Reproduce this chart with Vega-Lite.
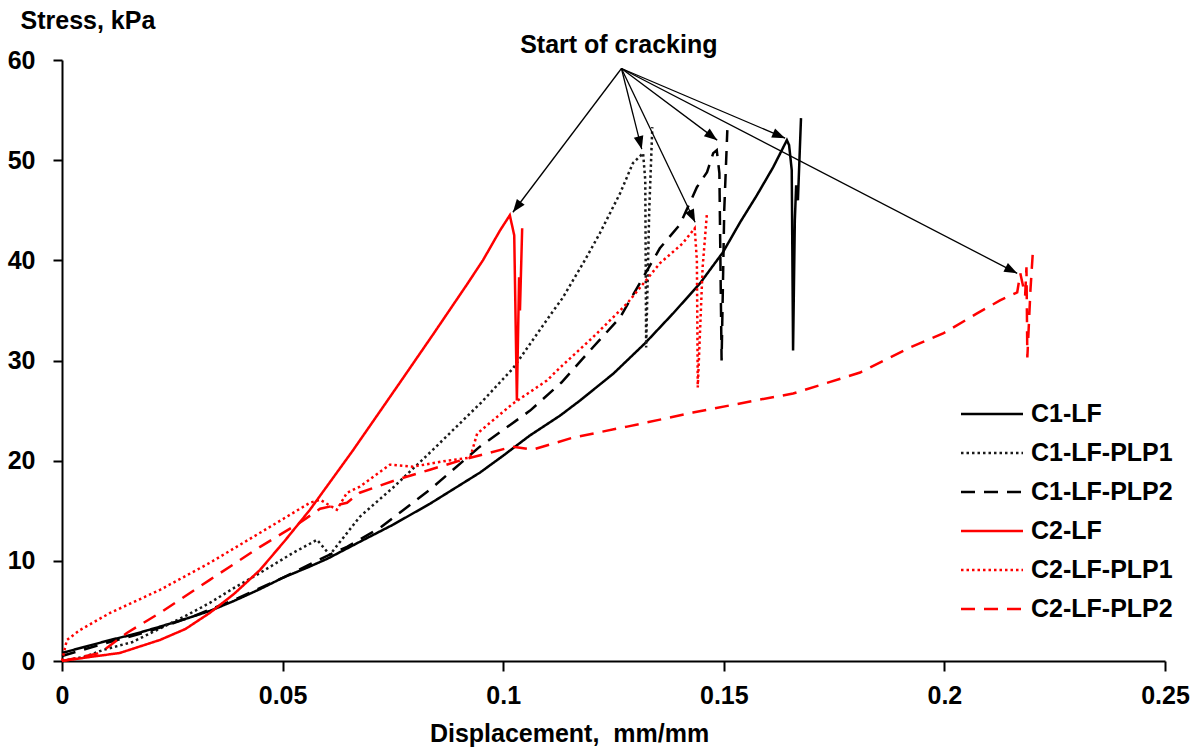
{
  "$schema": "https://vega.github.io/schema/vega-lite/v6.json",
  "width": 1103,
  "height": 601,
  "autosize": {"type": "none"},
  "padding": {"left": 62, "top": 60, "right": 37, "bottom": 88},
  "background": "white",
  "config": {
    "view": {"stroke": null},
    "axis": {
      "domainColor": "black", "domainWidth": 2, "tickColor": "black", "tickWidth": 2,
      "labelFont": "Liberation Sans", "labelFontWeight": "bold", "labelFontSize": 25, "labelColor": "black",
      "titleFont": "Liberation Sans", "titleFontWeight": "bold", "titleFontSize": 25, "titleColor": "black",
      "grid": false, "labelFlush": false, "labelOverlap": false
    },
    "legend": {
      "labelFont": "Liberation Sans", "labelFontWeight": "bold", "labelFontSize": 25, "labelColor": "black"
    }
  },
  "datasets": {
    "curves": [
      {"s": "C1-LF", "x": 0, "y": 0.8}, {"s": "C1-LF", "x": 0.005, "y": 1.4}, {"s": "C1-LF", "x": 0.011, "y": 2.1},
      {"s": "C1-LF", "x": 0.0165, "y": 2.7}, {"s": "C1-LF", "x": 0.022, "y": 3.4}, {"s": "C1-LF", "x": 0.028, "y": 4.2},
      {"s": "C1-LF", "x": 0.0335, "y": 5.0}, {"s": "C1-LF", "x": 0.039, "y": 6.0}, {"s": "C1-LF", "x": 0.045, "y": 7.2},
      {"s": "C1-LF", "x": 0.05, "y": 8.3}, {"s": "C1-LF", "x": 0.056, "y": 9.4}, {"s": "C1-LF", "x": 0.0601, "y": 10.2},
      {"s": "C1-LF", "x": 0.0675, "y": 11.9}, {"s": "C1-LF", "x": 0.075, "y": 13.6}, {"s": "C1-LF", "x": 0.0834, "y": 15.7},
      {"s": "C1-LF", "x": 0.0947, "y": 18.8}, {"s": "C1-LF", "x": 0.1, "y": 20.5}, {"s": "C1-LF", "x": 0.106, "y": 22.5},
      {"s": "C1-LF", "x": 0.1129, "y": 24.5}, {"s": "C1-LF", "x": 0.1174, "y": 26}, {"s": "C1-LF", "x": 0.125, "y": 28.7},
      {"s": "C1-LF", "x": 0.1321, "y": 31.7}, {"s": "C1-LF", "x": 0.1385, "y": 34.7}, {"s": "C1-LF", "x": 0.1446, "y": 37.7},
      {"s": "C1-LF", "x": 0.1498, "y": 40.8}, {"s": "C1-LF", "x": 0.1537, "y": 43.8}, {"s": "C1-LF", "x": 0.1575, "y": 46.5},
      {"s": "C1-LF", "x": 0.1612, "y": 49.3}, {"s": "C1-LF", "x": 0.1643, "y": 52}, {"s": "C1-LF", "x": 0.1648, "y": 51.5},
      {"s": "C1-LF", "x": 0.1654, "y": 49}, {"s": "C1-LF", "x": 0.1657, "y": 31}, {"s": "C1-LF", "x": 0.1661, "y": 44},
      {"s": "C1-LF", "x": 0.1664, "y": 47.5}, {"s": "C1-LF", "x": 0.1668, "y": 46}, {"s": "C1-LF", "x": 0.1675, "y": 54.2},

      {"s": "C1-LF-PLP1", "x": 0, "y": 0}, {"s": "C1-LF-PLP1", "x": 0.005, "y": 0.4}, {"s": "C1-LF-PLP1", "x": 0.0093, "y": 1.1},
      {"s": "C1-LF-PLP1", "x": 0.016, "y": 1.9}, {"s": "C1-LF-PLP1", "x": 0.022, "y": 3.2}, {"s": "C1-LF-PLP1", "x": 0.028, "y": 4.5},
      {"s": "C1-LF-PLP1", "x": 0.0335, "y": 5.8}, {"s": "C1-LF-PLP1", "x": 0.039, "y": 7.3}, {"s": "C1-LF-PLP1", "x": 0.0449, "y": 8.8},
      {"s": "C1-LF-PLP1", "x": 0.0524, "y": 10.8}, {"s": "C1-LF-PLP1", "x": 0.0578, "y": 12.1}, {"s": "C1-LF-PLP1", "x": 0.0607, "y": 10.6},
      {"s": "C1-LF-PLP1", "x": 0.0675, "y": 14.4}, {"s": "C1-LF-PLP1", "x": 0.075, "y": 17.3}, {"s": "C1-LF-PLP1", "x": 0.0841, "y": 21.1},
      {"s": "C1-LF-PLP1", "x": 0.095, "y": 25.8}, {"s": "C1-LF-PLP1", "x": 0.1022, "y": 29.2}, {"s": "C1-LF-PLP1", "x": 0.1106, "y": 34.5},
      {"s": "C1-LF-PLP1", "x": 0.1134, "y": 36.2}, {"s": "C1-LF-PLP1", "x": 0.1185, "y": 40}, {"s": "C1-LF-PLP1", "x": 0.1219, "y": 42.7},
      {"s": "C1-LF-PLP1", "x": 0.1265, "y": 46.7}, {"s": "C1-LF-PLP1", "x": 0.1294, "y": 49.7}, {"s": "C1-LF-PLP1", "x": 0.1317, "y": 50.7},
      {"s": "C1-LF-PLP1", "x": 0.1322, "y": 48}, {"s": "C1-LF-PLP1", "x": 0.1324, "y": 31.3}, {"s": "C1-LF-PLP1", "x": 0.1331, "y": 45},
      {"s": "C1-LF-PLP1", "x": 0.1338, "y": 53.3},

      {"s": "C1-LF-PLP2", "x": 0, "y": 0.5}, {"s": "C1-LF-PLP2", "x": 0.01, "y": 1.8}, {"s": "C1-LF-PLP2", "x": 0.02, "y": 3.0},
      {"s": "C1-LF-PLP2", "x": 0.03, "y": 4.5}, {"s": "C1-LF-PLP2", "x": 0.04, "y": 6.3}, {"s": "C1-LF-PLP2", "x": 0.05, "y": 8.3},
      {"s": "C1-LF-PLP2", "x": 0.0601, "y": 10.5}, {"s": "C1-LF-PLP2", "x": 0.0646, "y": 11.4}, {"s": "C1-LF-PLP2", "x": 0.0721, "y": 13.3},
      {"s": "C1-LF-PLP2", "x": 0.0834, "y": 17.1}, {"s": "C1-LF-PLP2", "x": 0.0947, "y": 21.4}, {"s": "C1-LF-PLP2", "x": 0.1061, "y": 25},
      {"s": "C1-LF-PLP2", "x": 0.1132, "y": 27.8}, {"s": "C1-LF-PLP2", "x": 0.1203, "y": 31.3}, {"s": "C1-LF-PLP2", "x": 0.1265, "y": 34.3},
      {"s": "C1-LF-PLP2", "x": 0.1355, "y": 41.2}, {"s": "C1-LF-PLP2", "x": 0.1401, "y": 43.6}, {"s": "C1-LF-PLP2", "x": 0.1439, "y": 47.3},
      {"s": "C1-LF-PLP2", "x": 0.1462, "y": 48.8}, {"s": "C1-LF-PLP2", "x": 0.1476, "y": 50.7}, {"s": "C1-LF-PLP2", "x": 0.1484, "y": 51},
      {"s": "C1-LF-PLP2", "x": 0.149, "y": 48.7}, {"s": "C1-LF-PLP2", "x": 0.1495, "y": 30}, {"s": "C1-LF-PLP2", "x": 0.1501, "y": 45},
      {"s": "C1-LF-PLP2", "x": 0.1508, "y": 53},

      {"s": "C2-LF", "x": 0, "y": 0}, {"s": "C2-LF", "x": 0.0063, "y": 0.4}, {"s": "C2-LF", "x": 0.0131, "y": 0.8},
      {"s": "C2-LF", "x": 0.0222, "y": 2.1}, {"s": "C2-LF", "x": 0.028, "y": 3.2}, {"s": "C2-LF", "x": 0.0335, "y": 4.8},
      {"s": "C2-LF", "x": 0.039, "y": 6.7}, {"s": "C2-LF", "x": 0.0449, "y": 9.1}, {"s": "C2-LF", "x": 0.0505, "y": 12.0},
      {"s": "C2-LF", "x": 0.0562, "y": 15.1}, {"s": "C2-LF", "x": 0.0659, "y": 21}, {"s": "C2-LF", "x": 0.0766, "y": 27.8},
      {"s": "C2-LF", "x": 0.0841, "y": 32.6}, {"s": "C2-LF", "x": 0.0918, "y": 37.6}, {"s": "C2-LF", "x": 0.0954, "y": 40},
      {"s": "C2-LF", "x": 0.0993, "y": 43}, {"s": "C2-LF", "x": 0.1015, "y": 44.5}, {"s": "C2-LF", "x": 0.1025, "y": 42.5},
      {"s": "C2-LF", "x": 0.1031, "y": 26}, {"s": "C2-LF", "x": 0.1036, "y": 38.3}, {"s": "C2-LF", "x": 0.1038, "y": 35},
      {"s": "C2-LF", "x": 0.1043, "y": 43.2},

      {"s": "C2-LF-PLP1", "x": 0, "y": 0}, {"s": "C2-LF-PLP1", "x": 0.0011, "y": 2.1}, {"s": "C2-LF-PLP1", "x": 0.0041, "y": 3.1},
      {"s": "C2-LF-PLP1", "x": 0.0109, "y": 4.8}, {"s": "C2-LF-PLP1", "x": 0.0222, "y": 7.1}, {"s": "C2-LF-PLP1", "x": 0.0335, "y": 9.8},
      {"s": "C2-LF-PLP1", "x": 0.0449, "y": 12.8}, {"s": "C2-LF-PLP1", "x": 0.0562, "y": 15.8}, {"s": "C2-LF-PLP1", "x": 0.0585, "y": 16.1},
      {"s": "C2-LF-PLP1", "x": 0.0623, "y": 15.1}, {"s": "C2-LF-PLP1", "x": 0.0646, "y": 16.8}, {"s": "C2-LF-PLP1", "x": 0.0675, "y": 17.4},
      {"s": "C2-LF-PLP1", "x": 0.0743, "y": 19.6}, {"s": "C2-LF-PLP1", "x": 0.0795, "y": 19.4}, {"s": "C2-LF-PLP1", "x": 0.0873, "y": 20},
      {"s": "C2-LF-PLP1", "x": 0.0925, "y": 20.3}, {"s": "C2-LF-PLP1", "x": 0.0941, "y": 22.7}, {"s": "C2-LF-PLP1", "x": 0.1022, "y": 25.7},
      {"s": "C2-LF-PLP1", "x": 0.1099, "y": 28}, {"s": "C2-LF-PLP1", "x": 0.1129, "y": 29.3}, {"s": "C2-LF-PLP1", "x": 0.1203, "y": 32.3},
      {"s": "C2-LF-PLP1", "x": 0.1281, "y": 35.7}, {"s": "C2-LF-PLP1", "x": 0.1355, "y": 39.7}, {"s": "C2-LF-PLP1", "x": 0.1407, "y": 41.7},
      {"s": "C2-LF-PLP1", "x": 0.1434, "y": 43.2}, {"s": "C2-LF-PLP1", "x": 0.1439, "y": 40}, {"s": "C2-LF-PLP1", "x": 0.1441, "y": 27.3},
      {"s": "C2-LF-PLP1", "x": 0.1452, "y": 39.3}, {"s": "C2-LF-PLP1", "x": 0.1462, "y": 44.8},

      {"s": "C2-LF-PLP2", "x": 0, "y": 0}, {"s": "C2-LF-PLP2", "x": 0.0086, "y": 0.8}, {"s": "C2-LF-PLP2", "x": 0.0147, "y": 2.8},
      {"s": "C2-LF-PLP2", "x": 0.0222, "y": 4.8}, {"s": "C2-LF-PLP2", "x": 0.0335, "y": 8.1}, {"s": "C2-LF-PLP2", "x": 0.0449, "y": 11.4},
      {"s": "C2-LF-PLP2", "x": 0.0539, "y": 13.8}, {"s": "C2-LF-PLP2", "x": 0.0585, "y": 15.2}, {"s": "C2-LF-PLP2", "x": 0.0646, "y": 15.8},
      {"s": "C2-LF-PLP2", "x": 0.0675, "y": 16.8}, {"s": "C2-LF-PLP2", "x": 0.0759, "y": 18.1}, {"s": "C2-LF-PLP2", "x": 0.0834, "y": 19.1},
      {"s": "C2-LF-PLP2", "x": 0.0909, "y": 20.1}, {"s": "C2-LF-PLP2", "x": 0.1022, "y": 21.4}, {"s": "C2-LF-PLP2", "x": 0.1067, "y": 21.1},
      {"s": "C2-LF-PLP2", "x": 0.1158, "y": 22.3}, {"s": "C2-LF-PLP2", "x": 0.1281, "y": 23.4}, {"s": "C2-LF-PLP2", "x": 0.143, "y": 24.8},
      {"s": "C2-LF-PLP2", "x": 0.1582, "y": 26.1}, {"s": "C2-LF-PLP2", "x": 0.1657, "y": 26.7}, {"s": "C2-LF-PLP2", "x": 0.1809, "y": 28.8},
      {"s": "C2-LF-PLP2", "x": 0.1922, "y": 31.3}, {"s": "C2-LF-PLP2", "x": 0.1997, "y": 32.7}, {"s": "C2-LF-PLP2", "x": 0.2074, "y": 34.7},
      {"s": "C2-LF-PLP2", "x": 0.2126, "y": 36}, {"s": "C2-LF-PLP2", "x": 0.2165, "y": 36.8}, {"s": "C2-LF-PLP2", "x": 0.2172, "y": 38.7},
      {"s": "C2-LF-PLP2", "x": 0.2183, "y": 36.5}, {"s": "C2-LF-PLP2", "x": 0.2186, "y": 39.3}, {"s": "C2-LF-PLP2", "x": 0.2188, "y": 30.3},
      {"s": "C2-LF-PLP2", "x": 0.2195, "y": 37}, {"s": "C2-LF-PLP2", "x": 0.2201, "y": 41.2}
    ],
    "arrows": [
      {"x0": 0.1268, "y0": 59.15, "x1": 0.1022, "y1": 44.8},
      {"x0": 0.1268, "y0": 59.15, "x1": 0.1314, "y1": 51.1},
      {"x0": 0.1268, "y0": 59.15, "x1": 0.1435, "y1": 43.8},
      {"x0": 0.1268, "y0": 59.15, "x1": 0.1485, "y1": 52.0},
      {"x0": 0.1268, "y0": 59.15, "x1": 0.1639, "y1": 52.2},
      {"x0": 0.1268, "y0": 59.15, "x1": 0.2165, "y1": 38.7}
    ],
    "notes": [
      {"x": 0.1262, "y": 60.7, "label": "Start of cracking"}
    ]
  },
  "layer": [
    {
      "data": {"name": "curves"},
      "mark": {"type": "line", "strokeWidth": 2.5, "clip": false},
      "encoding": {
        "x": {"field": "x", "type": "quantitative",
              "scale": {"domain": [0, 0.25], "nice": false},
              "axis": {"values": [0, 0.05, 0.1, 0.15, 0.2, 0.25], "format": "~g", "tickSize": 10, "labelPadding": 12,
                       "title": "Displacement,\u00a0\u00a0mm/mm", "titleX": 507, "titleY": 80, "titleBaseline": "alphabetic", "titleAlign": "center"}},
        "y": {"field": "y", "type": "quantitative",
              "scale": {"domain": [0, 60], "nice": false},
              "axis": {"values": [0, 10, 20, 30, 40, 50, 60], "tickSize": 9, "labelPadding": 18,
                       "title": "Stress, kPa", "titleAngle": 0, "titleX": -42, "titleY": -32, "titleAlign": "left", "titleBaseline": "alphabetic"}},
        "color": {"field": "s", "type": "nominal",
                  "scale": {"domain": ["C1-LF", "C1-LF-PLP1", "C1-LF-PLP2", "C2-LF", "C2-LF-PLP1", "C2-LF-PLP2"],
                            "range": ["#000000", "#1a1a1a", "#000000", "#ff0000", "#ff0000", "#ff0000"]},
                  "legend": {"title": null, "orient": "none", "legendX": 916, "legendY": 340, "symbolType": "M-2.5,0L2.5,0",
                             "symbolSize": 615, "symbolStrokeWidth": 2.5, "rowPadding": 12, "labelOffset": 25, "padding": 0}},
        "strokeDash": {"field": "s", "type": "nominal",
                       "scale": {"domain": ["C1-LF", "C1-LF-PLP1", "C1-LF-PLP2", "C2-LF", "C2-LF-PLP1", "C2-LF-PLP2"],
                                 "range": [[1, 0], [2.5, 3], [14, 9], [1, 0], [2.5, 3], [14, 9]]},
                       "legend": {"title": null, "orient": "none", "legendX": 916, "legendY": 340, "symbolType": "M-2.5,0L2.5,0",
                                  "symbolSize": 615, "symbolStrokeWidth": 2.5, "rowPadding": 12, "labelOffset": 25, "padding": 0}},
        "order": {"value": null}
      }
    },
    {
      "data": {"name": "arrows"},
      "mark": {"type": "rule", "color": "black", "strokeWidth": 1.3},
      "encoding": {
        "x": {"field": "x0", "type": "quantitative"},
        "y": {"field": "y0", "type": "quantitative"},
        "x2": {"field": "x1"},
        "y2": {"field": "y1"}
      }
    },
    {
      "data": {"name": "arrows"},
      "transform": [
        {"calculate": "atan2((datum.x1 - datum.x0) * 4412, (datum.y1 - datum.y0) * 10.02) * 180 / PI", "as": "ang"}
      ],
      "mark": {"type": "point", "filled": true, "color": "black", "opacity": 1, "size": 169,
               "shape": "M0,0L-0.75,2L0.75,2Z"},
      "encoding": {
        "x": {"field": "x1", "type": "quantitative"},
        "y": {"field": "y1", "type": "quantitative"},
        "angle": {"field": "ang", "type": "quantitative", "scale": null}
      }
    },
    {
      "data": {"name": "notes"},
      "mark": {"type": "text", "font": "Liberation Sans", "fontWeight": "bold", "fontSize": 25, "color": "black",
               "align": "center", "baseline": "alphabetic"},
      "encoding": {
        "x": {"field": "x", "type": "quantitative"},
        "y": {"field": "y", "type": "quantitative"},
        "text": {"field": "label"}
      }
    }
  ]
}
